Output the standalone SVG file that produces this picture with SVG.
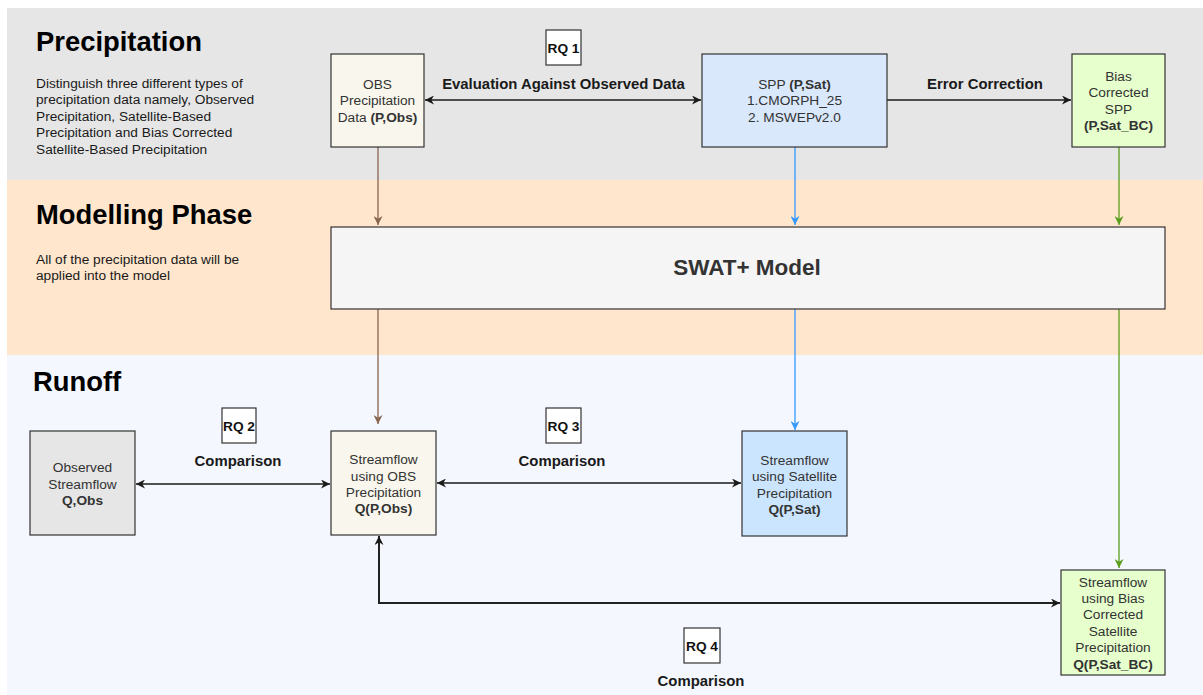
<svg xmlns="http://www.w3.org/2000/svg" width="1203" height="695" viewBox="0 0 1203 695">
<style>
text{font-family:"Liberation Sans",Arial,Helvetica,sans-serif}
.title{font-size:27.4px;font-weight:bold;fill:#000}
.desc{font-size:13.7px;fill:#1a1a1a}
.nt{font-size:13.7px;fill:#333;text-anchor:middle}
.b{font-weight:bold}
.lbl{font-size:14.9px;font-weight:bold;fill:#1a1a1a;text-anchor:middle}
.rq{font-size:13.7px;font-weight:bold;fill:#111;text-anchor:middle}
.box{stroke:#333;stroke-width:1.2}
.rqbox{fill:#fff;stroke:#333;stroke-width:1.2}
.blk{fill:none;stroke:#1a1a1a;stroke-width:1.3}
</style>
<defs>
<marker id="ak" viewBox="0 0 10 10" refX="10" refY="5" markerWidth="9" markerHeight="9" markerUnits="userSpaceOnUse" orient="auto-start-reverse"><path d="M0,0 L10,5 L0,10 L3,5 z" fill="#1a1a1a"/></marker>
<marker id="ab" viewBox="0 0 10 10" refX="10" refY="5" markerWidth="9" markerHeight="9" markerUnits="userSpaceOnUse" orient="auto-start-reverse"><path d="M0,0 L10,5 L0,10 L3,5 z" fill="#87654f"/></marker>
<marker id="au" viewBox="0 0 10 10" refX="10" refY="5" markerWidth="9" markerHeight="9" markerUnits="userSpaceOnUse" orient="auto-start-reverse"><path d="M0,0 L10,5 L0,10 L3,5 z" fill="#3399ff"/></marker>
<marker id="ag" viewBox="0 0 10 10" refX="10" refY="5" markerWidth="9" markerHeight="9" markerUnits="userSpaceOnUse" orient="auto-start-reverse"><path d="M0,0 L10,5 L0,10 L3,5 z" fill="#5a9e1c"/></marker>
</defs>
<rect width="1203" height="695" fill="#ffffff"/>
<g id="bands">
<rect x="7" y="8" width="1196" height="172" fill="#e6e6e6"/>
<rect x="7" y="180" width="1196" height="175" fill="#ffe6cc"/>
<rect x="7" y="355" width="1196" height="340" fill="#f4f7fe"/>
</g>
<g id="section-precipitation">
<text class="title" x="36" y="51">Precipitation</text>
<text class="desc" x="36" y="88">Distinguish three different types of</text>
<text class="desc" x="36" y="104.4">precipitation data namely, Observed</text>
<text class="desc" x="36" y="120.8">Precipitation, Satellite-Based</text>
<text class="desc" x="36" y="137.2">Precipitation and Bias Corrected</text>
<text class="desc" x="36" y="153.6">Satellite-Based Precipitation</text>
</g>
<g id="section-modelling">
<text class="title" x="36" y="224">Modelling Phase</text>
<text class="desc" x="36" y="264">All of the precipitation data will be</text>
<text class="desc" x="36" y="280.4">applied into the model</text>
</g>
<g id="section-runoff">
<text class="title" x="33" y="391">Runoff</text>
</g>
<g id="connectors">
<line class="blk" x1="425" y1="100" x2="701" y2="100" marker-start="url(#ak)" marker-end="url(#ak)"/>
<line class="blk" x1="887" y1="100" x2="1071" y2="100" marker-end="url(#ak)"/>
<line x1="378" y1="147" x2="378" y2="225" stroke="#87654f" stroke-width="1.3" marker-end="url(#ab)"/>
<line x1="795" y1="147" x2="795" y2="225" stroke="#3399ff" stroke-width="1.3" marker-end="url(#au)"/>
<line x1="1119" y1="147" x2="1119" y2="225" stroke="#5a9e1c" stroke-width="1.3" marker-end="url(#ag)"/>
<line x1="378" y1="309" x2="378" y2="424" stroke="#87654f" stroke-width="1.3" marker-end="url(#ab)"/>
<line x1="795" y1="309" x2="795" y2="430" stroke="#3399ff" stroke-width="1.3" marker-end="url(#au)"/>
<line x1="1119" y1="309" x2="1119" y2="568" stroke="#5a9e1c" stroke-width="1.3" marker-end="url(#ag)"/>
<line class="blk" x1="136" y1="484" x2="330" y2="484" marker-start="url(#ak)" marker-end="url(#ak)"/>
<line class="blk" x1="437" y1="483" x2="741" y2="483" marker-start="url(#ak)" marker-end="url(#ak)"/>
<path d="M379,536 L379,603 L1060,603" fill="none" stroke="#222" stroke-width="2" marker-start="url(#ak)" marker-end="url(#ak)"/>
<text class="lbl" x="563.5" y="88.5">Evaluation Against Observed Data</text>
<text class="lbl" x="985" y="88.5">Error Correction</text>
<text class="lbl" x="238" y="466">Comparison</text>
<text class="lbl" x="562" y="466">Comparison</text>
<text class="lbl" x="701" y="686">Comparison</text>
</g>
<g id="rq1"><rect class="rqbox" x="546" y="30" width="35" height="35"/><text class="rq" x="563.5" y="52.5">RQ 1</text></g>
<g id="rq2"><rect class="rqbox" x="222" y="408" width="34" height="35"/><text class="rq" x="239" y="430.5">RQ 2</text></g>
<g id="rq3"><rect class="rqbox" x="546" y="408" width="35" height="35"/><text class="rq" x="563.5" y="430.5">RQ 3</text></g>
<g id="rq4"><rect class="rqbox" x="684" y="628" width="36" height="35"/><text class="rq" x="702" y="650.5">RQ 4</text></g>
<g id="obs-precip">
<rect class="box" x="331" y="54" width="93" height="93" fill="#f9f7ed"/>
<text class="nt" x="377.5" y="89">OBS</text>
<text class="nt" x="377.5" y="105.4">Precipitation</text>
<text class="nt" x="377.5" y="121.8">Data <tspan class="b">(P,Obs)</tspan></text>
</g>
<g id="spp">
<rect class="box" x="702" y="54" width="185" height="93" fill="#dae8fc"/>
<text class="nt" x="794.5" y="89">SPP <tspan class="b">(P,Sat)</tspan></text>
<text class="nt" x="794.5" y="105.4">1.CMORPH_25</text>
<text class="nt" x="794.5" y="121.8">2. MSWEPv2.0</text>
</g>
<g id="bias-spp">
<rect class="box" x="1072" y="54" width="93" height="93" fill="#e6ffcc"/>
<text class="nt" x="1118.5" y="80.8">Bias</text>
<text class="nt" x="1118.5" y="97.2">Corrected</text>
<text class="nt" x="1118.5" y="113.6">SPP</text>
<text class="nt b" x="1118.5" y="130">(P,Sat_BC)</text>
</g>
<g id="swat">
<rect class="box" x="331" y="227" width="834" height="82" fill="#f5f5f5"/>
<text x="747" y="275" text-anchor="middle" font-size="22.5" font-weight="bold" fill="#333">SWAT+ Model</text>
</g>
<g id="obs-streamflow">
<rect class="box" x="30" y="431" width="105" height="104" fill="#e6e6e6"/>
<text class="nt" x="82.5" y="472.4">Observed</text>
<text class="nt" x="82.5" y="488.8">Streamflow</text>
<text class="nt b" x="82.5" y="505.2">Q,Obs</text>
</g>
<g id="streamflow-obs">
<rect class="box" x="331" y="431" width="105" height="104" fill="#f9f7ed"/>
<text class="nt" x="383.5" y="464.2">Streamflow</text>
<text class="nt" x="383.5" y="480.6">using OBS</text>
<text class="nt" x="383.5" y="497">Precipitation</text>
<text class="nt b" x="383.5" y="513.4">Q(P,Obs)</text>
</g>
<g id="streamflow-sat">
<rect class="box" x="742" y="431" width="105" height="105" fill="#cce5ff"/>
<text class="nt" x="794.5" y="464.7">Streamflow</text>
<text class="nt" x="794.5" y="481.1">using Satellite</text>
<text class="nt" x="794.5" y="497.5">Precipitation</text>
<text class="nt b" x="794.5" y="513.9">Q(P,Sat)</text>
</g>
<g id="streamflow-bias">
<rect class="box" x="1061" y="570" width="104" height="105" fill="#e6ffcc"/>
<text class="nt" x="1113" y="586.5">Streamflow</text>
<text class="nt" x="1113" y="602.9">using Bias</text>
<text class="nt" x="1113" y="619.3">Corrected</text>
<text class="nt" x="1113" y="635.7">Satellite</text>
<text class="nt" x="1113" y="652.1">Precipitation</text>
<text class="nt b" x="1113" y="668.5">Q(P,Sat_BC)</text>
</g>
</svg>
